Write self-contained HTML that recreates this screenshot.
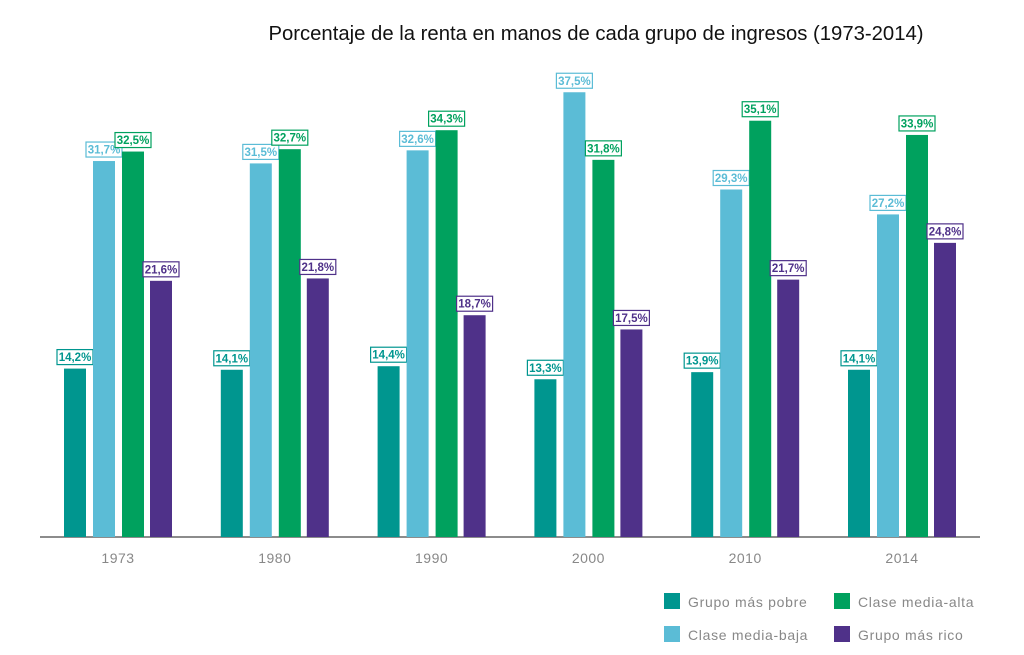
<!DOCTYPE html>
<html><head><meta charset="utf-8"><style>
body{margin:0;background:#fff;}
svg{display:block;font-family:"Liberation Sans",sans-serif;}
</style></head><body>
<svg id="c" width="1024" height="655" xmlns="http://www.w3.org/2000/svg">
<text x="596" y="40" font-size="20.3" text-anchor="middle" fill="#111">Porcentaje de la renta en manos de cada grupo de ingresos (1973-2014)</text>
<line x1="40" y1="537" x2="980" y2="537" stroke="#666" stroke-width="1.5"/>
<g id="bars"></g>
<rect x="664" y="593" width="16" height="16" fill="#00968f"/>
<text x="688" y="607" font-size="14" fill="#888" letter-spacing="0.7">Grupo más pobre</text>
<rect x="834" y="593" width="16" height="16" fill="#00a15e"/>
<text x="858" y="607" font-size="14" fill="#888" letter-spacing="0.7">Clase media-alta</text>
<rect x="664" y="626" width="16" height="16" fill="#5bbcd6"/>
<text x="688" y="640" font-size="14" fill="#888" letter-spacing="0.7">Clase media-baja</text>
<rect x="834" y="626" width="16" height="16" fill="#4f3189"/>
<text x="858" y="640" font-size="14" fill="#888" letter-spacing="0.7">Grupo más rico</text>
</svg>
<script>
var years=["1973","1980","1990","2000","2010","2014"];
var d=[[14.2,31.7,32.5,21.6],[14.1,31.5,32.7,21.8],[14.4,32.6,34.3,18.7],[13.3,37.5,31.8,17.5],[13.9,29.3,35.1,21.7],[14.1,27.2,33.9,24.8]];
var col=["#00968f","#5bbcd6","#00a15e","#4f3189"];
var off=[0,29,58,86],s="";
for(var i=0;i<6;i++){var g=64+i*156.8;
for(var j=0;j<4;j++){var v=d[i][j],h=v*11.86,x=g+off[j],y=537-h;
s+='<rect x="'+x+'" y="'+y+'" width="22" height="'+h+'" fill="'+col[j]+'"/>';
var cx=x+11;
s+='<rect x="'+(cx-18)+'" y="'+(y-19)+'" width="36" height="15" fill="#fff" stroke="'+col[j]+'" stroke-width="1.2"/>';
s+='<text x="'+cx+'" y="'+(y-7.5)+'" font-size="11.5" font-weight="bold" text-anchor="middle" fill="'+col[j]+'">'+(v.toFixed(1).replace(".",","))+'%</text>';}
s+='<text x="'+(g+54)+'" y="563" font-size="14" text-anchor="middle" fill="#888" letter-spacing="0.5">'+years[i]+'</text>';}
document.getElementById("bars").innerHTML=s;
</script>
</body></html>
